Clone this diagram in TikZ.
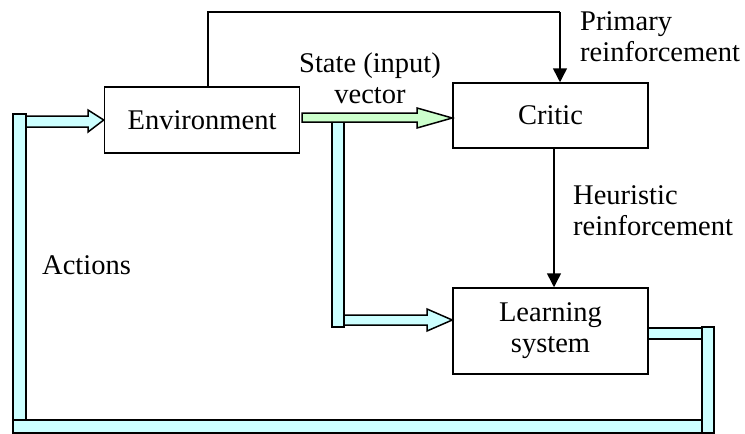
\documentclass[tikz,border=0pt]{standalone}
\usepackage{fontspec}
\setmainfont{Liberation Serif}
\usetikzlibrary{arrows.meta}
\definecolor{pipecyan}{HTML}{CCFFFF}
\definecolor{pipegreen}{HTML}{CCFFCC}
\tikzset{
  block/.style={draw,line width=1.5pt,minimum width=195pt,inner sep=0pt,align=center},
  sig/.style={line width=1.5pt,-{Triangle[length=14pt,width=14pt]}},
  pipe/.style={draw,line width=1.5pt,fill=pipecyan,line join=miter},
  lbl/.style={inner sep=0pt}
}
\begin{document}
\begin{tikzpicture}[x=1pt,y=-1pt,font=\fontsize{28.5}{31}\selectfont]
      \useasboundingbox (0,0) rectangle (745,434);

      \node[block,minimum height=66pt] (env) at (202,120) {Environment};
      \node[block,minimum height=65pt] (critic) at (550.5,115.5) {Critic};
      \node[block,minimum height=86pt] (learn) at (550.5,331) {Learning\\system};

      \coordinate (fbL) at (208,12);
      \coordinate (fbR) at (560,12);
      \coordinate (hx) at (554,0);

      % primary and heuristic reinforcement
      \draw[line width=1.5pt] (env.north -| fbL) -- (fbL) -- (fbR);
      \draw[sig] (fbR) -- (critic.north -| fbR);
      \draw[sig] (critic.south -| hx) -- (learn.north -| hx);

      % state vector
      \draw[pipe] (332,120) rectangle (344,327);
      \draw[pipe,fill=pipegreen] (302,113) -- (417,113) -- (417,108) -- (critic.west |- 0,118)
        -- (417,128) -- (417,122) -- (302,122) -- cycle;
      \draw[pipe] (344,315) -- (427,315) -- (427,309) -- (learn.west |- 0,320)
        -- (427,331) -- (427,325) -- (344,325) -- cycle;

      % actions
      \draw[pipe] (648,328) rectangle (702,339);
      \draw[pipe] (702,327) rectangle (714,433);
      \draw[pipe] (13,420) rectangle (702,433);
      \draw[pipe] (13,114) rectangle (26,420);
      \draw[pipe] (26,116) -- (88,116) -- (88,110) -- (env.west)
        -- (88,132) -- (88,127) -- (26,127) -- cycle;

      \node[lbl,align=center] (state) at (370,78) {State (input)\\vector};
      \node[lbl,align=left,anchor=west] (prim) at (580,37) {Primary\\reinforcement};
      \node[lbl,align=left,anchor=west] (heur) at (573,211) {Heuristic\\reinforcement};
      \node[lbl,anchor=west] (act) at (42,265) {Actions};
\end{tikzpicture}
\end{document}
